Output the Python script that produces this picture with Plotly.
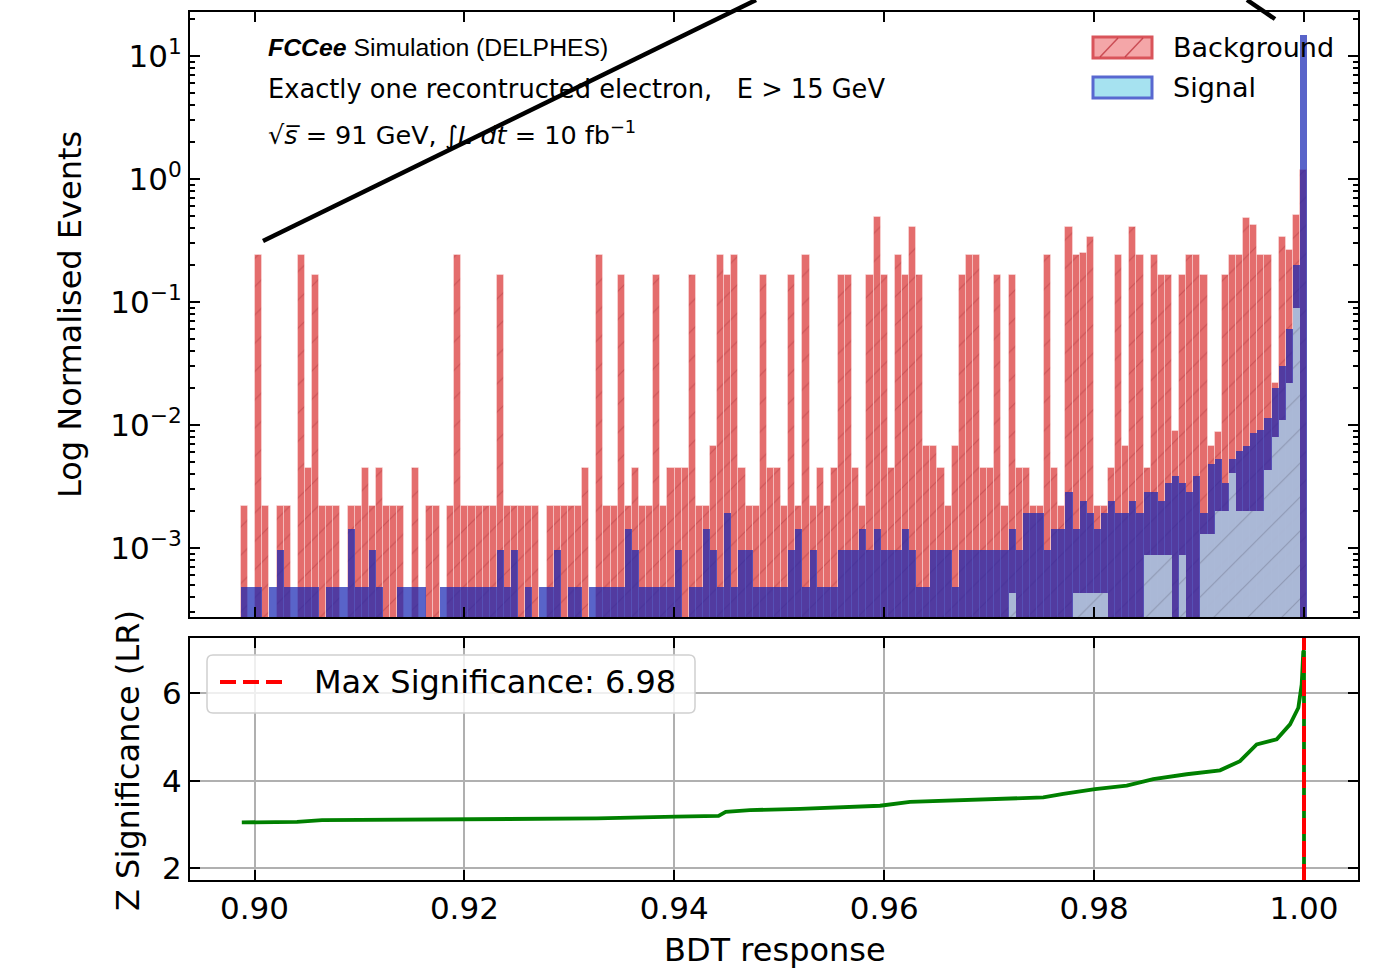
import numpy as np
import plotly.graph_objects as go

W, H = 1393, 968
H_DRAWN = 962  # vertical extent the page actually gives the figure when photographed

# ---------------- data ----------------
BIN_LO, BIN_HI, N_BINS = 0.89871, 1.00029, 150

background = [
    0.0022, 0, 0.24, 0.0022, 0, 0.0022, 0.0022, 0, 0.24, 0.0045,
    0.166, 0.0022, 0.0022, 0.0022, 0, 0.0022, 0.0022, 0.0045, 0.0022, 0.0045,
    0.0022, 0.0022, 0.0022, 0, 0.0045, 0, 0.0022, 0.0022, 0, 0.0022,
    0.24, 0.0022, 0.0022, 0.0022, 0.0022, 0.0022, 0.166, 0.0022, 0.0022, 0.0022,
    0.0022, 0.0022, 0, 0.0022, 0.0022, 0.0022, 0.0022, 0.0022, 0.0045, 0,
    0.24, 0.0022, 0.0022, 0.166, 0.0022, 0.0045, 0.0022, 0.0022, 0.166, 0.0022,
    0.0045, 0.0045, 0.0045, 0.166, 0.0022, 0.0022, 0.0067, 0.24, 0.166, 0.24,
    0.0045, 0.0022, 0.0022, 0.166, 0.0045, 0.0045, 0.0022, 0.166, 0.0022, 0.24,
    0.0022, 0.0045, 0.0022, 0.0045, 0.166, 0.166, 0.0045, 0.0022, 0.166, 0.49,
    0.166, 0.0045, 0.24, 0.166, 0.41, 0.166, 0.0067, 0.0067, 0.0045, 0.0022,
    0.0067, 0.166, 0.24, 0.24, 0.0045, 0.0045, 0.166, 0.0022, 0.166, 0.0045,
    0.0045, 0.0022, 0.0022, 0.24, 0.0045, 0.0022, 0.41, 0.24, 0.25, 0.34,
    0.0022, 0.0022, 0.0045, 0.24, 0.0067, 0.41, 0.24, 0.0045, 0.24, 0.166,
    0.166, 0.009, 0.166, 0.24, 0.24, 0.166, 0.0067, 0.0088, 0.166, 0.24,
    0.24, 0.48, 0.42, 0.24, 0.24, 0.022, 0.34, 0.265, 0.51, 1.18,
]

signal = [
    0.00048, 0.00048, 0.00048, 0, 0.00048, 0.00096, 0.00048, 0.00048, 0.00048, 0.00048,
    0.00048, 0, 0.00048, 0.00048, 0.00048, 0.00143, 0.00048, 0.00048, 0.00096, 0.00048,
    0, 0, 0.00048, 0.00048, 0.00048, 0.00048, 0, 0, 0.00048, 0.00048,
    0.00048, 0.00048, 0.00048, 0.00048, 0.00048, 0.00048, 0.00096, 0.00048, 0.00096, 0,
    0.00048, 0, 0.00048, 0.00048, 0.00096, 0, 0.00048, 0.00048, 0, 0.00048,
    0.00048, 0.00048, 0.00048, 0.00048, 0.00143, 0.00096, 0.00048, 0.00048, 0.00048, 0.00048,
    0.00048, 0.00096, 0, 0.00048, 0.00048, 0.00143, 0.00096, 0.00048, 0.00191, 0.00048,
    0.00096, 0.00096, 0.00048, 0.00048, 0.00048, 0.00048, 0.00048, 0.00096, 0.00143, 0.00048,
    0.00096, 0.00048, 0.00048, 0.00048, 0.00096, 0.00096, 0.00096, 0.00143, 0.00096, 0.00143,
    0.00096, 0.00096, 0.00096, 0.00143, 0.00096, 0.00048, 0.00048, 0.00096, 0.00096, 0.00096,
    0.00048, 0.00096, 0.00096, 0.00096, 0.00096, 0.00096, 0.00096, 0.00096, 0.00143, 0.00096,
    0.00191, 0.00191, 0.00191, 0.00096, 0.00143, 0.00143, 0.00287, 0.00143, 0.00239, 0.00191,
    0.00143, 0.00191, 0.00239, 0.00191, 0.00191, 0.00239, 0.00191, 0.00287, 0.00287, 0.00239,
    0.00335, 0.00382, 0.00335, 0.00287, 0.00382, 0.00191, 0.0048, 0.0053, 0.00335, 0.0053,
    0.0062, 0.0067, 0.0086, 0.0091, 0.0115, 0.02, 0.03, 0.06, 0.2, 14.8,
]

# pale hatched component visible under the signal at high BDT response
signal_pale = [0] * 108 + [
    0.00043, 0, 0, 0, 0, 0, 0, 0, 0, 0.00043,
    0.00043, 0.00043, 0.00043, 0.00043, 0, 0, 0, 0, 0, 0.00088,
    0.00088, 0.00088, 0.00088, 0, 0.00088, 0, 0, 0.0013, 0.0013, 0.002,
    0.002, 0.0041, 0.002, 0.002, 0.002, 0.002, 0.0043, 0.008, 0.011, 0.022,
    0.09, 0,
]

cut_values = [0.89879, 0.90405, 0.90643, 0.91968, 0.93263, 0.94016, 0.94422, 0.94490,
              0.94721, 0.95198, 0.95960, 0.96246, 0.96818, 0.97104, 0.97516, 0.97707,
              0.98009, 0.98311, 0.98564, 0.98882, 0.99200, 0.99390, 0.99549, 0.99740,
              0.99867, 0.99946, 0.99978, 0.99993, 1.0, 1.0]
z_values = [3.05, 3.06, 3.10, 3.12, 3.14, 3.18, 3.20, 3.29,
            3.33, 3.36, 3.43, 3.52, 3.56, 3.58, 3.62, 3.70,
            3.81, 3.89, 4.04, 4.15, 4.24, 4.45, 4.83, 4.95,
            5.29, 5.67, 6.20, 6.95, 6.98, 0.0]

MAX_CUT = 1.0
MAX_Z = 6.98

x_ticks = [0.90, 0.92, 0.94, 0.96, 0.98, 1.00]
x_ticktext = ["0.90", "0.92", "0.94", "0.96", "0.98", "1.00"]
y_ticks = [1e-3, 1e-2, 1e-1, 1e0, 1e1]
y_ticktext = ["10<sup>\u22123</sup>", "10<sup>\u22122</sup>", "10<sup>\u22121</sup>",
              "10<sup>0</sup>", "10<sup>1</sup>"]
z_ticks = [2, 4, 6]

# ---------------- geometry helpers ----------------
def px(x):
    return x / W


def py(y):
    return 1 - y / H_DRAWN


edges = np.linspace(BIN_LO, BIN_HI, N_BINS + 1)
centers = 0.5 * (edges[:-1] + edges[1:])
bw = edges[1] - edges[0]


def nz(a):
    return [v if v > 0 else None for v in a]


FONT = "DejaVu Sans"
XR = [0.893854, 1.005145]

fig = go.Figure()

fig.add_trace(go.Bar(
    x=centers, y=nz(background), width=bw, xaxis="x", yaxis="y", showlegend=False,
    marker=dict(color="rgba(214,39,40,0.68)",
                line=dict(color="rgba(255,235,235,0.45)", width=1),
                pattern=dict(shape="/", fgcolor="rgba(120,0,10,0.45)", size=20,
                             solidity=0.06, fillmode="overlay")),
))
fig.add_trace(go.Bar(
    x=centers, y=nz(signal), width=bw, xaxis="x", yaxis="y", showlegend=False,
    marker=dict(color="rgba(25,40,180,0.72)", line=dict(width=0)),
))
fig.add_trace(go.Bar(
    x=centers, y=nz(signal_pale), width=bw, xaxis="x", yaxis="y", showlegend=False,
    marker=dict(color="rgba(178,195,218,0.92)", line=dict(width=0),
                pattern=dict(shape="/", fgcolor="rgba(70,70,90,0.55)", size=24,
                             solidity=0.05, fillmode="overlay")),
))

fig.add_trace(go.Scatter(
    x=cut_values, y=z_values, mode="lines", xaxis="x2", yaxis="y2", showlegend=False,
    line=dict(color="#008000", width=3.8),
))

axis_common = dict(showline=True, linecolor="black", linewidth=2, mirror="allticks",
                   ticks="inside", ticklen=10, tickwidth=2, tickcolor="black",
                   zeroline=False,
                   tickfont=dict(family=FONT, size=31, color="black"))

fig.update_layout(
    width=W, height=H, margin=dict(l=0, r=0, t=0, b=0),
    paper_bgcolor="white", plot_bgcolor="white",
    barmode="overlay", bargap=0, showlegend=False,
    xaxis=dict(domain=[px(190), px(1358)], range=XR, anchor="y",
               tickmode="array", tickvals=x_ticks, showticklabels=False,
               showgrid=False, **axis_common),
    yaxis=dict(domain=[py(617), py(12)], type="log", range=[-3.561, 1.358], anchor="x",
               tickmode="array", tickvals=y_ticks, ticktext=y_ticktext, showgrid=False,
               minor=dict(ticks="inside", ticklen=5, tickwidth=1.5, tickcolor="black",
                          dtick="D1", showgrid=False),
               **axis_common),
    xaxis2=dict(domain=[px(190), px(1358)], range=XR, anchor="y2",
                tickmode="array", tickvals=x_ticks, ticktext=x_ticktext,
                showgrid=True, gridcolor="#b0b0b0", gridwidth=1.5, **axis_common),
    yaxis2=dict(domain=[py(880), py(638)], range=[1.733, 7.264], anchor="x2",
                tickmode="array", tickvals=z_ticks, ticktext=[str(t) for t in z_ticks],
                showgrid=True, gridcolor="#b0b0b0", gridwidth=1.5, **axis_common),
)

shapes = []
annotations = []

# max significance vertical line
shapes.append(dict(type="line", xref="x2", yref="y2 domain", x0=MAX_CUT, x1=MAX_CUT,
                   y0=0, y1=1, line=dict(color="red", width=4, dash="16px,7px")))

# top legend (manual)
shapes.append(dict(type="rect", xref="paper", yref="paper",
                   x0=px(1093), x1=px(1152), y0=py(58), y1=py(37),
                   fillcolor="#f4a6a8", line=dict(color="#d9545a", width=3)))
for xa, xb in [(1100, 1118), (1125, 1143)]:
    shapes.append(dict(type="line", xref="paper", yref="paper",
                       x0=px(xa), x1=px(xb), y0=py(57), y1=py(38),
                       line=dict(color="rgba(185,40,50,0.7)", width=1.5)))
shapes.append(dict(type="rect", xref="paper", yref="paper",
                   x0=px(1093), x1=px(1152), y0=py(98), y1=py(77),
                   fillcolor="#a6e2f0", line=dict(color="#5868d0", width=3)))
annotations.append(dict(text="Background", xref="paper", yref="paper", x=px(1171), y=py(47),
                        xanchor="left", yanchor="middle", showarrow=False,
                        font=dict(family=FONT, size=27, color="black")))
annotations.append(dict(text="Signal", xref="paper", yref="paper", x=px(1171), y=py(87),
                        xanchor="left", yanchor="middle", showarrow=False,
                        font=dict(family=FONT, size=27, color="black")))

# bottom legend (manual, rounded box)
bx0, bx1, by0, by1, r = 207, 695, 655, 713, 6
pts = (f"M {px(bx0 + r)},{py(by0)} L {px(bx1 - r)},{py(by0)} "
       f"Q {px(bx1)},{py(by0)} {px(bx1)},{py(by0 + r)} "
       f"L {px(bx1)},{py(by1 - r)} Q {px(bx1)},{py(by1)} {px(bx1 - r)},{py(by1)} "
       f"L {px(bx0 + r)},{py(by1)} Q {px(bx0)},{py(by1)} {px(bx0)},{py(by1 - r)} "
       f"L {px(bx0)},{py(by0 + r)} Q {px(bx0)},{py(by0)} {px(bx0 + r)},{py(by0)} Z")
shapes.append(dict(type="path", xref="paper", yref="paper", path=pts,
                   fillcolor="rgba(255,255,255,0.8)", line=dict(color="#d0d0d0", width=1.5)))
shapes.append(dict(type="line", xref="paper", yref="paper", x0=px(220), x1=px(287),
                   y0=py(682), y1=py(682),
                   line=dict(color="red", width=4, dash="16px,7px")))
annotations.append(dict(text=f"Max Significance: {MAX_Z:.2f}", xref="paper", yref="paper",
                        x=px(312), y=py(682), xanchor="left", yanchor="middle",
                        showarrow=False, font=dict(family=FONT, size=32, color="black")))

# header texts
annotations.append(dict(text="<b><i>FCCee</i></b> Simulation (DELPHES)", xref="paper",
                        yref="paper", x=px(266), y=py(47), xanchor="left", yanchor="middle",
                        showarrow=False,
                        font=dict(family="Liberation Sans", size=24.8, color="black")))
annotations.append(dict(text="Exactly one recontructed electron,\u00a0\u00a0\u00a0E > 15 GeV",
                        xref="paper", yref="paper", x=px(266), y=py(89), xanchor="left",
                        yanchor="middle", showarrow=False,
                        font=dict(family=FONT, size=25.7, color="black")))
annotations.append(dict(text="\u221a<i>s\u0305</i> = 91 GeV, \u222b<i>L dt</i> = 10 fb<sup>\u22121</sup>",
                        xref="paper", yref="paper", x=px(266), y=py(133), xanchor="left",
                        yanchor="middle", showarrow=False,
                        font=dict(family=FONT, size=25.5, color="black")))

# axis titles
annotations.append(dict(text="Log Normalised Events", xref="paper", yref="paper",
                        x=px(70), y=py(315), textangle=-90, showarrow=False,
                        xanchor="center", yanchor="middle",
                        font=dict(family=FONT, size=32, color="black")))
annotations.append(dict(text="Z Significance (LR)", xref="paper", yref="paper",
                        x=px(128), y=py(761), textangle=-90, showarrow=False,
                        xanchor="center", yanchor="middle",
                        font=dict(family=FONT, size=32, color="black")))
annotations.append(dict(text="BDT response", xref="paper", yref="paper",
                        x=px(775), y=py(950), showarrow=False,
                        xanchor="center", yanchor="middle",
                        font=dict(family=FONT, size=32, color="black")))

# black overlay strokes present in the reference picture
shapes.append(dict(type="line", xref="paper", yref="paper", x0=px(263), y0=py(241),
                   x1=px(756), y1=py(0), line=dict(color="black", width=4.5)))
shapes.append(dict(type="line", xref="paper", yref="paper", x0=px(1247), y0=py(0),
                   x1=px(1275), y1=py(19), line=dict(color="black", width=4.5)))

fig.update_layout(shapes=shapes, annotations=annotations)

fig.write_html("out.html")
